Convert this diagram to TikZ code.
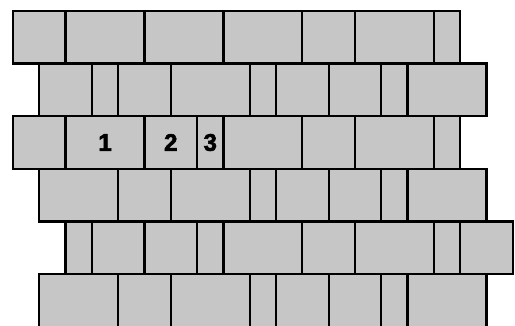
\documentclass[tikz,border=0pt]{standalone}
\usepackage{fontspec}
\setmainfont{Liberation Sans}
\newfontfamily\numfont[FakeBold=2.5]{Liberation Sans Bold}
\definecolor{brickgray}{RGB}{198,198,198}
\tikzset{
  brick/.style={draw=black, fill=brickgray, line width=2.2pt},
  numlabel/.style={font=\numfont\fontsize{24}{24}\selectfont}
}
\begin{document}
\begin{tikzpicture}[x=26.3pt, y=-26.3pt]

\useasboundingbox (-0.494,-0.418) rectangle (19.087,11.94);
\clip (-0.494,-0.418) rectangle (19.087,11.94);

% row 1
\foreach \a/\b in {0/2,2/5,5/8,8/11,11/13,13/16,16/17}
  \draw[brick] (\a,0) rectangle (\b,2);

% row 2
\foreach \a/\b in {1/3,3/4,4/6,6/9,9/10,10/12,12/14,14/15,15/18}
  \draw[brick] (\a,2) rectangle (\b,4);

% row 3
\foreach \a/\b in {0/2,2/5,5/7,7/8,8/11,11/13,13/16,16/17}
  \draw[brick] (\a,4) rectangle (\b,6);

% row 4
\foreach \a/\b in {1/4,4/6,6/9,9/10,10/12,12/14,14/15,15/18}
  \draw[brick] (\a,6) rectangle (\b,8);

% row 5
\foreach \a/\b in {2/3,3/5,5/7,7/8,8/11,11/13,13/16,16/17,17/19}
  \draw[brick] (\a,8) rectangle (\b,10);

% row 6
\foreach \a/\b in {1/4,4/6,6/9,9/10,10/12,12/14,14/15,15/18}
  \draw[brick] (\a,10) rectangle (\b,12);

\node[numlabel] (n1) at (3.5,5) {1};
\node[numlabel] (n2) at (6,5) {2};
\node[numlabel] (n3) at (7.5,5) {3};

\end{tikzpicture}
\end{document}
